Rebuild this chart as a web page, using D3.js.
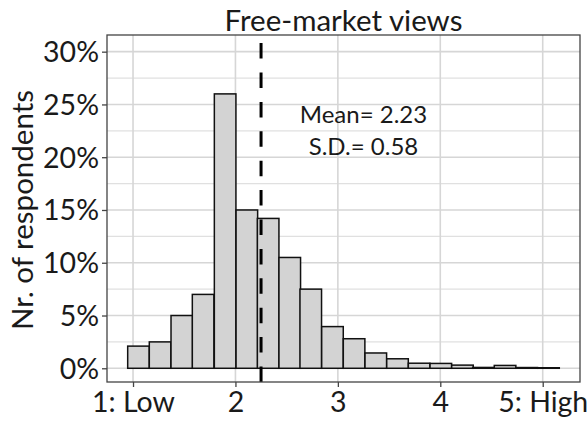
<!DOCTYPE html>
<html>
<head>
<meta charset="utf-8">
<script src="https://cdn.jsdelivr.net/npm/d3@7/dist/d3.min.js"></script>
<style>
  html, body { margin: 0; padding: 0; background: #ffffff; }
  svg { display: block; }
  text { font-family: Lato, "Open Sans", sans-serif; fill: #1a1a1a; }
</style>
</head>
<body>
<svg id="chart" width="587" height="424"></svg>
<script>
// ---- data ----
const chartTitle = "Free-market views";
const yAxisTitle = "Nr. of respondents";
const binLower = [0.948, 1.159, 1.371, 1.579, 1.794, 2.006, 2.214, 2.425, 2.630, 2.842,
                  3.053, 3.265, 3.477, 3.688, 3.900, 4.111, 4.316, 4.527, 4.739, 4.951];
const binWidth = 0.2107;
const sharePct = [2.1, 2.5, 5.0, 7.0, 26.0, 15.0, 14.2, 10.5, 7.5, 3.95,
                  2.8, 1.45, 0.9, 0.48, 0.46, 0.3, 0.08, 0.27, 0.07, 0.05];
const xTickValues = [1, 2, 3, 4, 5];
const xTickLabels = ["1: Low", "2", "3", "4", "5: High"];
const yTickValues = [0, 5, 10, 15, 20, 25, 30];
const yMinorValues = [2.5, 7.5, 12.5, 17.5, 22.5, 27.5];
const meanLinePos = 2.25;
const annotations = ["Mean= 2.23", "S.D.= 0.58"];
const annotationX = 3.25;
const annotationY = [23.2, 20.2];

// ---- layout ----
const panel = { left: 107, right: 580, top: 35, bottom: 382 };
const svg = d3.select("#chart");

const x = d3.scaleLinear().domain([0.746, 5.364]).range([panel.left, panel.right]);
const y = d3.scaleLinear().domain([-1.30, 31.58]).range([panel.bottom, panel.top]);

// grid
const grid = svg.append("g");
grid.selectAll("line.hmin").data(yMinorValues).join("line")
  .attr("x1", panel.left).attr("x2", panel.right)
  .attr("y1", d => y(d)).attr("y2", d => y(d))
  .attr("stroke", "#e0e0e0").attr("stroke-width", 1.3);
grid.selectAll("line.hmaj").data(yTickValues).join("line")
  .attr("x1", panel.left).attr("x2", panel.right)
  .attr("y1", d => y(d)).attr("y2", d => y(d))
  .attr("stroke", "#d6d6d6").attr("stroke-width", 1.6);
grid.selectAll("line.vmaj").data(xTickValues).join("line")
  .attr("y1", panel.top).attr("y2", panel.bottom)
  .attr("x1", d => x(d)).attr("x2", d => x(d))
  .attr("stroke", "#d6d6d6").attr("stroke-width", 1.6);

// bars
svg.append("g").selectAll("rect").data(sharePct).join("rect")
  .attr("x", (d, i) => x(binLower[i]))
  .attr("width", (d, i) => x(binLower[i] + binWidth) - x(binLower[i]))
  .attr("y", d => y(d))
  .attr("height", d => y(0) - y(d))
  .attr("fill", "#d3d3d3")
  .attr("stroke", "#111")
  .attr("stroke-width", 1.5);

// mean line (drawn from bottom upwards)
svg.append("line")
  .attr("x1", x(meanLinePos)).attr("x2", x(meanLinePos))
  .attr("y1", panel.bottom).attr("y2", panel.top)
  .attr("stroke", "#000").attr("stroke-width", 3)
  .attr("stroke-dasharray", "15.5,13.9");

// panel border
svg.append("rect")
  .attr("x", panel.left).attr("y", panel.top)
  .attr("width", panel.right - panel.left).attr("height", panel.bottom - panel.top)
  .attr("fill", "none").attr("stroke", "#444").attr("stroke-width", 1.3);

// axes
const xAxis = d3.axisBottom(x).tickValues(xTickValues)
  .tickFormat((d, i) => xTickLabels[i]).tickSize(5).tickPadding(5);
const gx = svg.append("g").attr("transform", `translate(0,${panel.bottom})`).call(xAxis);
gx.select(".domain").remove();
gx.selectAll(".tick line").attr("stroke", "#444").attr("stroke-width", 1.3);
gx.selectAll(".tick text").attr("font-size", 28.5).attr("font-family", "Lato").attr("fill", "#1a1a1a");

const yAxis = d3.axisLeft(y).tickValues(yTickValues)
  .tickFormat(d => d + "%").tickSize(5).tickPadding(3);
const gy = svg.append("g").attr("transform", `translate(${panel.left},0)`).call(yAxis);
gy.select(".domain").remove();
gy.selectAll(".tick line").attr("stroke", "#444").attr("stroke-width", 1.3);
gy.selectAll(".tick text").attr("font-size", 28.5).attr("font-family", "Lato").attr("fill", "#1a1a1a")
  .attr("dy", "0.35em");

// title
svg.append("text")
  .attr("x", (panel.left + panel.right) / 2).attr("y", 30.5)
  .attr("text-anchor", "middle").attr("font-size", 29.5)
  .text(chartTitle);

// y-axis title
svg.append("text")
  .attr("transform", `translate(33,210) rotate(-90)`)
  .attr("text-anchor", "middle").attr("font-size", 29.5)
  .text(yAxisTitle);

// annotations
svg.append("g").selectAll("text").data(annotations).join("text")
  .attr("x", x(annotationX))
  .attr("y", (d, i) => y(annotationY[i]))
  .attr("text-anchor", "middle").attr("font-size", 24)
  .text(d => d);
</script>
</body>
</html>
